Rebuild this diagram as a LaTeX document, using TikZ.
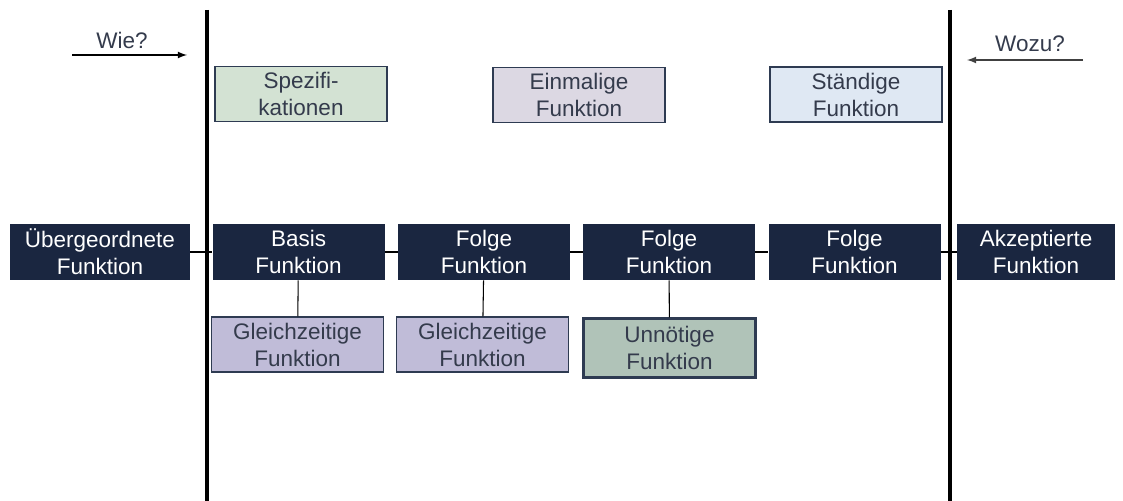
\documentclass[tikz,border=0pt]{standalone}
\usepackage{fontspec}
\setmainfont{Liberation Sans}
\usepackage{xcolor}
\usepackage{tikz}
\usetikzlibrary{shapes,arrows,positioning}

\definecolor{navy}{HTML}{1A2640}
\definecolor{boxline}{HTML}{2E3B52}
\definecolor{grtext}{HTML}{343B4C}
\definecolor{specfill}{HTML}{D3E2D3}
\definecolor{oncefill}{HTML}{DCD8E3}
\definecolor{permfill}{HTML}{DFE8F3}
\definecolor{simfill}{HTML}{C0BCD8}
\definecolor{needfill}{HTML}{B0C3B8}

\begin{document}
\begin{tikzpicture}[
    darkbox/.style={rectangle, fill=navy, text=white, minimum width=3.44cm, minimum height=1.12cm, inner sep=1pt, align=center, font=\fontsize{12.8}{15.4}\selectfont},
    lightbox/.style={rectangle, draw=boxline, line width=0.7pt, text=grtext, minimum width=3.44cm, minimum height=1.1cm, inner sep=1pt, align=center, font=\fontsize{12.8}{15.4}\selectfont},
    label/.style={text=grtext, font=\fontsize{12.8}{15.4}\selectfont},
    link/.style={draw=black, line width=0.6pt},
    border/.style={draw=black, line width=2pt},
    arrow/.style={->, >=latex, line width=0.8pt},
]
    \useasboundingbox (0,0) rectangle (22.46,10.02);

    % the two borders
    \coordinate (ltop) at (4.14,9.82);
    \coordinate (lbot) at (4.14,0);
    \coordinate (rtop) at (19.0,9.82);
    \coordinate (rbot) at (19.0,0);

    % top row
    \node[lightbox, fill=specfill] (spec) at (6.02,8.14) {Spezifi-\\kationen};
    \node[lightbox, fill=oncefill] (once) at (11.58,8.12) {Einmalige\\Funktion};
    \node[lightbox, fill=permfill] (perm) at (17.12,8.13) {Ständige\\Funktion};

    % main row
    \node[darkbox, minimum width=3.6cm] (upper) at (2.0,4.98) {Übergeordnete\\Funktion};
    \node[darkbox] (basis) at (5.97,4.98) {Basis\\Funktion};
    \node[darkbox] (follow1) at (9.68,4.98) {Folge\\Funktion};
    \node[darkbox] (follow2) at (13.38,4.98) {Folge\\Funktion};
    \node[darkbox] (follow3) at (17.09,4.98) {Folge\\Funktion};
    \node[darkbox, minimum width=3.16cm] (accepted) at (20.72,4.98) {Akzeptierte\\Funktion};

    % bottom row
    \node[lightbox, fill=simfill] (sim1) at (5.95,3.13) {Gleichzeitige\\Funktion};
    \node[lightbox, fill=simfill] (sim2) at (9.65,3.13) {Gleichzeitige\\Funktion};
    \node[lightbox, fill=needfill, line width=1.4pt, minimum height=1.18cm] (needless) at (13.39,3.06) {Unnötige\\Funktion};

    \draw[link] (upper) -- (basis);
    \draw[link] (basis) -- (follow1);
    \draw[link] (follow1) -- (follow2);
    \draw[link] (follow2) -- (follow3);
    \draw[link] (follow3) -- (accepted);
    \draw[link] (basis) -- (sim1);
    \draw[link] (follow1) -- (sim2);
    \draw[link] (follow2) -- (needless);

    \draw[border] (ltop) -- (lbot);
    \draw[border] (rtop) -- (rbot);

    % questions
    \coordinate (howA) at (1.44,8.92);
    \coordinate (howB) at (3.74,8.92);
    \coordinate (whyA) at (21.66,8.82);
    \coordinate (whyB) at (19.34,8.82);
    \draw[arrow] (howA) -- (howB);
    \draw[arrow, draw=black!75] (whyA) -- (whyB);
    \node[label] (how) at (2.44,9.22) {Wie?};
    \node[label] (why) at (20.6,9.14) {Wozu?};
\end{tikzpicture}
\end{document}
